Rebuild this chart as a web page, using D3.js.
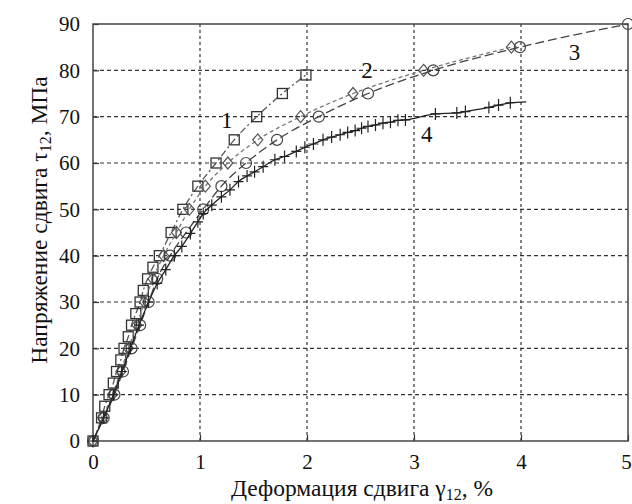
<!DOCTYPE html>
<html>
<head>
<meta charset="utf-8">
<script src="https://cdn.jsdelivr.net/npm/d3@7"></script>
<style>
  body { margin: 0; background: #fff; }
  svg text { font-family: 'Liberation Serif', 'DejaVu Serif', Times, serif; fill: #111; }
</style>
</head>
<body>
<div id="chart"></div>
<script>
// axis ticks
const xTicks = [0, 1, 2, 3, 4, 5];
const yTicks = [0, 10, 20, 30, 40, 50, 60, 70, 80, 90];

// curve 1 (squares)
const strain1 = [0, 0.08, 0.11, 0.15, 0.19, 0.22, 0.26, 0.29, 0.33, 0.36, 0.40, 0.44, 0.47, 0.51, 0.56, 0.62, 0.73, 0.84, 0.98, 1.15, 1.32, 1.53, 1.77, 1.99];
const stress1 = [0, 5, 7.5, 10, 12.5, 15, 17.5, 20, 22.5, 25, 27.5, 30, 32.5, 35, 37.5, 40, 45, 50, 55, 60, 65, 70, 75, 79];

// curve 2 (diamonds)
const strain2 = [0, 0.09, 0.18, 0.26, 0.33, 0.41, 0.48, 0.56, 0.66, 0.78, 0.90, 1.05, 1.26, 1.54, 1.94, 2.43, 3.09, 3.91];
const stress2 = [0, 5, 10, 15, 20, 25, 30, 35, 40, 45, 50, 55, 60, 65, 70, 75, 80, 85];

// curve 3 (circles)
const strain3 = [0, 0.10, 0.20, 0.28, 0.36, 0.44, 0.52, 0.60, 0.72, 0.87, 1.03, 1.20, 1.43, 1.72, 2.11, 2.57, 3.18, 3.99, 5.0];
const stress3 = [0, 5, 10, 15, 20, 25, 30, 35, 40, 45, 50, 55, 60, 65, 70, 75, 80, 85, 90];

// curve 4 (plus)
const strain4 = [0, 0.10, 0.19, 0.27, 0.35, 0.43, 0.52, 0.60, 0.68, 0.76, 0.83, 0.91, 0.98, 1.03, 1.11, 1.20, 1.28, 1.36, 1.44, 1.51, 1.59, 1.70, 1.79, 1.90, 1.98, 2.06, 2.15, 2.23, 2.31, 2.38, 2.45, 2.51, 2.57, 2.64, 2.71, 2.78, 2.85, 2.92, 3.20, 3.40, 3.48, 3.70, 3.79, 3.90, 4.05];
const stress4 = [0, 5, 10, 15, 20, 25, 30, 34, 37, 40, 42, 44.8, 47.3, 49.1, 50.9, 52.7, 54.2, 56, 57.2, 58.1, 59.2, 60.7, 61.4, 62.5, 63.4, 64.1, 65, 65.6, 66.1, 66.6, 67, 67.5, 67.9, 68.2, 68.6, 68.8, 69.2, 69.3, 70.6, 70.8, 71.1, 72, 72.5, 73, 73.2];

// curve labels
const curveNames = ['1', '2', '3', '4'];
const nameStrain = [1.25, 2.56, 4.5, 3.12];
const nameStress = [67.5, 78.3, 82.2, 64.5];

const serif = "'Liberation Serif', 'DejaVu Serif', Times, serif";
const width = 632, height = 504;
const svg = d3.select('#chart').append('svg')
    .attr('width', width)
    .attr('height', height)
    .attr('font-family', serif);

const x = d3.scaleLinear().domain([0, 5]).range([93, 628]);
const y = d3.scaleLinear().domain([0, 90]).range([441, 24]);

// grid
svg.append('g').selectAll('line')
    .data(xTicks.slice(1, -1))
    .enter().append('line')
    .attr('x1', d => x(d)).attr('x2', d => x(d))
    .attr('y1', y(0)).attr('y2', y(90))
    .attr('stroke', '#333').attr('stroke-width', 1.2)
    .attr('stroke-dasharray', '3,3');

svg.append('g').selectAll('line')
    .data(yTicks.slice(1, -1))
    .enter().append('line')
    .attr('x1', x(0)).attr('x2', x(5))
    .attr('y1', d => y(d)).attr('y2', d => y(d))
    .attr('stroke', '#333').attr('stroke-width', 1.2)
    .attr('stroke-dasharray', '4,3');

// axes
const xAxis = svg.append('g')
    .attr('transform', `translate(0,${y(0)})`)
    .call(d3.axisBottom(x).tickValues(xTicks).tickFormat(d3.format('d'))
        .tickSizeInner(-6).tickSizeOuter(0).tickPadding(13));
const yAxis = svg.append('g')
    .attr('transform', `translate(${x(0)},0)`)
    .call(d3.axisLeft(y).tickValues(yTicks).tickFormat(d3.format('d'))
        .tickSizeInner(-6).tickSizeOuter(0).tickPadding(13));

[xAxis, yAxis].forEach(a => {
    a.attr('font-family', serif).attr('font-size', 21);
    a.selectAll('text').attr('fill', '#111');
    a.selectAll('line').attr('stroke', '#333').attr('stroke-width', 1.2);
    a.select('.domain').remove();
});
// last x label sits on the page edge, keep it inside
xAxis.selectAll('text').filter(d => d === 5).attr('dx', -2);

// frame
svg.append('rect')
    .attr('x', x(0)).attr('y', y(90))
    .attr('width', x(5) - x(0)).attr('height', y(0) - y(90))
    .attr('fill', 'none').attr('stroke', '#444').attr('stroke-width', 1.5);

const series = [
    { xs: strain1, ys: stress1, dash: '7,3,2,3', marker: 'square', color: '#555' },
    { xs: strain2, ys: stress2, dash: '4,3', marker: 'diamond', color: '#777' },
    { xs: strain3, ys: stress3, dash: '9,4', marker: 'circle', color: '#444' },
    { xs: strain4, ys: stress4, dash: null, marker: 'plus', color: '#222' }
];

const line = d3.line()
    .x(d => x(d[0]))
    .y(d => y(d[1]))
    .curve(d3.curveMonotoneX);

series.forEach(s => {
    const pts = s.xs.map((v, i) => [v, s.ys[i]]);
    svg.append('path')
        .datum(pts)
        .attr('fill', 'none')
        .attr('stroke', s.color)
        .attr('stroke-width', 1.3)
        .attr('stroke-dasharray', s.dash)
        .attr('d', line);

    const g = svg.append('g');
    const mpts = s.marker === 'plus' ? pts.slice(0, -1) : pts;
    mpts.forEach(p => {
        const cx = x(p[0]), cy = y(p[1]);
        if (s.marker === 'square') {
            g.append('rect').attr('x', cx - 5).attr('y', cy - 5).attr('width', 10).attr('height', 10)
                .attr('fill', 'none').attr('stroke', '#333').attr('stroke-width', 1.3);
        } else if (s.marker === 'diamond') {
            g.append('path').attr('d', `M${cx},${cy - 6}L${cx + 5},${cy}L${cx},${cy + 6}L${cx - 5},${cy}Z`)
                .attr('fill', 'none').attr('stroke', '#555').attr('stroke-width', 1.2);
        } else if (s.marker === 'circle') {
            g.append('circle').attr('cx', cx).attr('cy', cy).attr('r', 5.5)
                .attr('fill', 'none').attr('stroke', '#444').attr('stroke-width', 1.2);
        } else {
            g.append('path').attr('d', `M${cx - 5},${cy}H${cx + 5}M${cx},${cy - 6}V${cy + 6}`)
                .attr('stroke', '#222').attr('stroke-width', 1.2);
        }
    });
});

// curve numbers
svg.append('g').selectAll('text')
    .data(curveNames)
    .enter().append('text')
    .attr('x', (d, i) => x(nameStrain[i]))
    .attr('y', (d, i) => y(nameStress[i]))
    .attr('text-anchor', 'middle')
    .attr('font-size', 23)
    .text(d => d);

// axis titles
const xt = svg.append('text')
    .attr('x', 362).attr('y', 496)
    .attr('text-anchor', 'middle')
    .attr('font-size', 23.5);
xt.append('tspan').text('Деформация сдвига γ');
xt.append('tspan').attr('dy', 4).attr('font-size', 16).text('12');
xt.append('tspan').attr('dy', -4).text(', %');

const yt = svg.append('text')
    .attr('transform', 'translate(47,220) rotate(-90)')
    .attr('text-anchor', 'middle')
    .attr('font-size', 23.5);
yt.append('tspan').text('Напряжение сдвига τ');
yt.append('tspan').attr('dy', 4).attr('font-size', 16).text('12');
yt.append('tspan').attr('dy', -4).text(', МПа');
</script>
</body>
</html>
